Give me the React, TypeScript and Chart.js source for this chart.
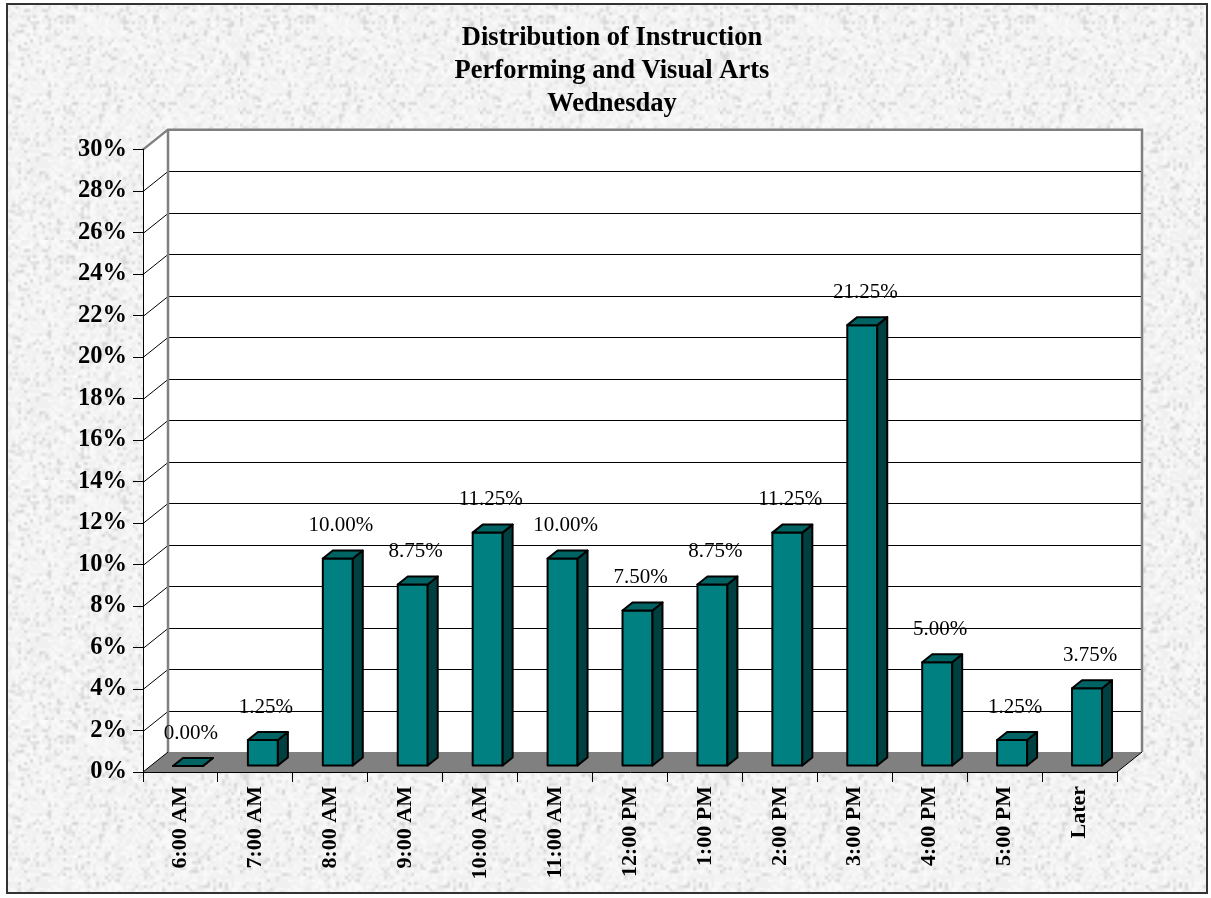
import React, { useEffect, useRef } from "react";
import { Chart, registerables } from "chart.js";

Chart.register(...registerables);

// ---- data ----
const categories = [
  "6:00 AM", "7:00 AM", "8:00 AM", "9:00 AM", "10:00 AM", "11:00 AM",
  "12:00 PM", "1:00 PM", "2:00 PM", "3:00 PM", "4:00 PM", "5:00 PM", "Later",
];
const values = [0, 1.25, 10, 8.75, 11.25, 10, 7.5, 8.75, 11.25, 21.25, 5, 1.25, 3.75];
const titleLines = ["Distribution of Instruction", "Performing and Visual Arts", "Wednesday"];
const yMin = 0;
const yMax = 30;
const yStep = 2;

// ---- style ----
const SERIF = '"Liberation Serif", "Times New Roman", Times, serif';
const DX = 25; // depth of the 3D box (px, to the right)
const DY = -20; // depth of the 3D box (px, upward)
const BAR_FRONT = 0.3;
const BAR_BACK = 0.7;
const FRONT = "#008080";
const TOP = "#006464";
const SIDE = "#004040";

function makeTexture(): HTMLCanvasElement {
  const small = document.createElement("canvas");
  small.width = 80;
  small.height = 80;
  const g = small.getContext("2d")!;
  const img = g.createImageData(80, 80);
  let seed = 987654321;
  const rnd = () => {
    seed = (seed * 1103515245 + 12345) & 0x7fffffff;
    return seed / 0x7fffffff;
  };
  for (let i = 0; i < 80 * 80; i++) {
    const r = rnd();
    let v = 238 + Math.floor(rnd() * 14);
    if (r < 0.15) v = 212 + Math.floor(rnd() * 20);
    img.data[i * 4] = v;
    img.data[i * 4 + 1] = v;
    img.data[i * 4 + 2] = v;
    img.data[i * 4 + 3] = 255;
  }
  g.putImageData(img, 0, 0);
  const big = document.createElement("canvas");
  big.width = 240;
  big.height = 240;
  const bg = big.getContext("2d")!;
  bg.imageSmoothingEnabled = true;
  bg.drawImage(small, 0, 0, 240, 240);
  return big;
}

const threeD = {
  id: "threeD",
  beforeDraw(chart: any) {
    const { ctx, chartArea, scales } = chart;
    const { left, right, top, bottom } = chartArea;
    const yScale = scales.y;
    ctx.save();
    // page background & outer border
    ctx.fillStyle = "#ffffff";
    ctx.fillRect(0, 0, chart.width, chart.height);
    const pat = ctx.createPattern(makeTexture(), "repeat");
    ctx.fillStyle = pat || "#e8e8e8";
    ctx.fillRect(7, 4, 1200, 889);
    ctx.strokeStyle = "#333333";
    ctx.lineWidth = 2;
    ctx.strokeRect(7, 4, 1200, 889);

    const bTop = top + DY;
    const bBottom = bottom + DY;
    // side wall
    ctx.fillStyle = "#ffffff";
    ctx.beginPath();
    ctx.moveTo(left, top);
    ctx.lineTo(left + DX, bTop);
    ctx.lineTo(left + DX, bBottom);
    ctx.lineTo(left, bottom);
    ctx.closePath();
    ctx.fill();
    // back wall
    ctx.fillRect(left + DX, bTop, right - left, bottom - top);

    // gridlines
    ctx.strokeStyle = "#000000";
    ctx.lineWidth = 1;
    for (let t = yMin + yStep; t < yMax; t += yStep) {
      const py = Math.round(yScale.getPixelForValue(t)) + 0.5;
      ctx.beginPath();
      ctx.moveTo(left, py);
      ctx.lineTo(left + DX, py + DY);
      ctx.lineTo(right + DX, py + DY);
      ctx.stroke();
    }
    // wall borders
    ctx.strokeStyle = "#808080";
    ctx.lineWidth = 2.5;
    ctx.beginPath();
    ctx.moveTo(left, top);
    ctx.lineTo(left + DX, bTop);
    ctx.lineTo(right + DX, bTop);
    ctx.lineTo(right + DX, bBottom);
    ctx.stroke();
    ctx.beginPath();
    ctx.moveTo(left + DX, bTop);
    ctx.lineTo(left + DX, bBottom);
    ctx.stroke();

    // floor
    ctx.fillStyle = "#808080";
    ctx.beginPath();
    ctx.moveTo(left, bottom);
    ctx.lineTo(right, bottom);
    ctx.lineTo(right + DX, bBottom);
    ctx.lineTo(left + DX, bBottom);
    ctx.closePath();
    ctx.fill();
    ctx.strokeStyle = "#000000";
    ctx.lineWidth = 1;
    ctx.beginPath();
    ctx.moveTo(left, bottom);
    ctx.lineTo(left + DX, bBottom);
    ctx.moveTo(right, bottom);
    ctx.lineTo(right + DX, bBottom);
    ctx.stroke();
    ctx.restore();
  },
  afterDatasetsDraw(chart: any) {
    const { ctx } = chart;
    const meta = chart.getDatasetMeta(0);
    ctx.save();
    ctx.lineWidth = 2;
    ctx.lineJoin = "round";
    ctx.strokeStyle = "#000000";
    const bdx = DX * (BAR_BACK - BAR_FRONT);
    const bdy = DY * (BAR_BACK - BAR_FRONT);
    meta.data.forEach((el: any, i: number) => {
      const { x, y, base, width } = el.getProps(["x", "y", "base", "width"], true);
      const fl = x - width / 2 + DX * BAR_FRONT;
      const fr = fl + width;
      const ft = y + DY * BAR_FRONT;
      const fb = base + DY * BAR_FRONT;
      // front
      ctx.fillStyle = FRONT;
      ctx.beginPath();
      ctx.rect(fl, ft, width, fb - ft);
      ctx.fill();
      ctx.stroke();
      // side
      ctx.fillStyle = SIDE;
      ctx.beginPath();
      ctx.moveTo(fr, ft);
      ctx.lineTo(fr + bdx, ft + bdy);
      ctx.lineTo(fr + bdx, fb + bdy);
      ctx.lineTo(fr, fb);
      ctx.closePath();
      ctx.fill();
      ctx.stroke();
      // top
      ctx.fillStyle = TOP;
      ctx.beginPath();
      ctx.moveTo(fl, ft);
      ctx.lineTo(fr, ft);
      ctx.lineTo(fr + bdx, ft + bdy);
      ctx.lineTo(fl + bdx, ft + bdy);
      ctx.closePath();
      ctx.fill();
      ctx.stroke();
      // value label
      ctx.fillStyle = "#000000";
      ctx.font = `21px ${SERIF}`;
      ctx.textAlign = "center";
      ctx.textBaseline = "middle";
      ctx.fillText(values[i].toFixed(2) + "%", x + DX * BAR_FRONT + 3, ft - 33);
    });
    ctx.restore();
  },
};

export default function App() {
  const ref = useRef<HTMLCanvasElement | null>(null);
  useEffect(() => {
    if (!ref.current) return;
    Chart.defaults.font.family = SERIF;
    const chart = new Chart(ref.current, {
      type: "bar",
      data: {
        labels: categories,
        datasets: [
          {
            data: values,
            backgroundColor: "rgba(0,0,0,0)",
            borderWidth: 0,
            barPercentage: 0.4,
            categoryPercentage: 1,
          },
        ],
      },
      options: {
        responsive: false,
        animation: false,
        devicePixelRatio: 1,
        layout: { padding: { top: 0, left: 13, right: 0, bottom: 0 } },
        plugins: {
          legend: { display: false },
          tooltip: { enabled: false },
          title: {
            display: true,
            text: titleLines,
            color: "#000000",
            font: { family: SERIF, size: 26.5, weight: "bold", lineHeight: 1.25 },
            padding: { top: 21.5, bottom: 28.75 },
          },
        },
        scales: {
          x: {
            grid: {
              drawOnChartArea: false,
              drawTicks: true,
              tickLength: 10,
              color: "#000000",
              offset: true,
            },
            border: { display: true, color: "#000000", width: 1 },
            ticks: {
              autoSkip: false,
              minRotation: 90,
              maxRotation: 90,
              padding: 4,
              color: "#000000",
              font: { family: SERIF, size: 22, weight: "bold" },
            },
            afterFit: (scale: any) => {
              scale.height = 126;
            },
          },
          y: {
            min: yMin,
            max: yMax,
            grid: {
              drawOnChartArea: false,
              drawTicks: true,
              tickLength: 10,
              color: "#000000",
            },
            border: { display: true, color: "#000000", width: 1 },
            ticks: {
              stepSize: yStep,
              padding: 6,
              color: "#000000",
              font: { family: SERIF, size: 24.5, weight: "bold" },
              callback: (v: any) => `${v}%`,
            },
            afterFit: (scale: any) => {
              scale.width = 130;
            },
          },
          yRight: {
            type: "linear",
            position: "right",
            display: true,
            min: yMin,
            max: yMax,
            grid: { display: false, drawTicks: false },
            border: { display: false },
            ticks: { display: false },
            afterFit: (scale: any) => {
              scale.width = 94;
            },
          },
        },
      },
      plugins: [threeD],
    });
    return () => chart.destroy();
  }, []);
  return (
    <div style={{ position: "absolute", left: 0, top: 0, width: 1211, height: 898 }}>
      <canvas ref={ref} width={1211} height={898} style={{ display: "block" }} />
    </div>
  );
}
